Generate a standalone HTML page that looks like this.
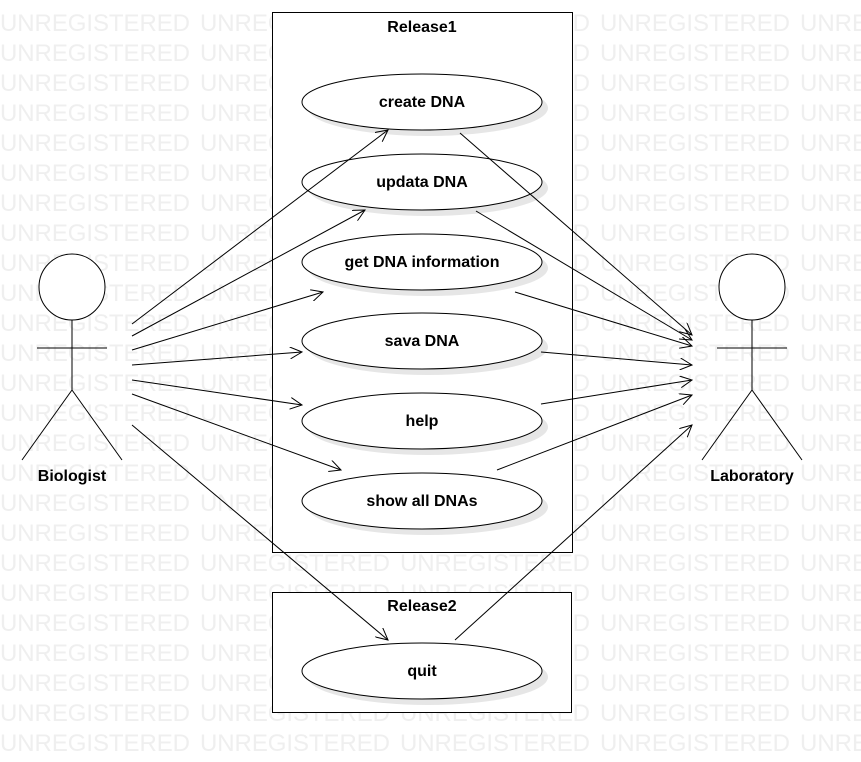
<!DOCTYPE html>
<html><head><meta charset="utf-8"><style>body{margin:0;background:#fff}svg{display:block}</style></head>
<body>
<svg width="861" height="762" viewBox="0 0 861 762" xmlns="http://www.w3.org/2000/svg" font-family="Liberation Sans, sans-serif">
<defs>
<marker id="a" markerWidth="14" markerHeight="12" refX="12" refY="6" orient="auto" markerUnits="userSpaceOnUse">
<path d="M0,0 L12,6 L0,12" fill="none" stroke="#000" stroke-width="1"/>
</marker>
</defs>
<g fill="#efefef" font-size="24">
<text x="0" y="31" textLength="190">UNREGISTERED</text><text x="200" y="31" textLength="190">UNREGISTERED</text><text x="400" y="31" textLength="190">UNREGISTERED</text><text x="600" y="31" textLength="190">UNREGISTERED</text><text x="800" y="31">UNRE</text>
<text x="0" y="61" textLength="190">UNREGISTERED</text><text x="200" y="61" textLength="190">UNREGISTERED</text><text x="400" y="61" textLength="190">UNREGISTERED</text><text x="600" y="61" textLength="190">UNREGISTERED</text><text x="800" y="61">UNRE</text>
<text x="0" y="91" textLength="190">UNREGISTERED</text><text x="200" y="91" textLength="190">UNREGISTERED</text><text x="400" y="91" textLength="190">UNREGISTERED</text><text x="600" y="91" textLength="190">UNREGISTERED</text><text x="800" y="91">UNRE</text>
<text x="0" y="121" textLength="190">UNREGISTERED</text><text x="200" y="121" textLength="190">UNREGISTERED</text><text x="400" y="121" textLength="190">UNREGISTERED</text><text x="600" y="121" textLength="190">UNREGISTERED</text><text x="800" y="121">UNRE</text>
<text x="0" y="151" textLength="190">UNREGISTERED</text><text x="200" y="151" textLength="190">UNREGISTERED</text><text x="400" y="151" textLength="190">UNREGISTERED</text><text x="600" y="151" textLength="190">UNREGISTERED</text><text x="800" y="151">UNRE</text>
<text x="0" y="181" textLength="190">UNREGISTERED</text><text x="200" y="181" textLength="190">UNREGISTERED</text><text x="400" y="181" textLength="190">UNREGISTERED</text><text x="600" y="181" textLength="190">UNREGISTERED</text><text x="800" y="181">UNRE</text>
<text x="0" y="211" textLength="190">UNREGISTERED</text><text x="200" y="211" textLength="190">UNREGISTERED</text><text x="400" y="211" textLength="190">UNREGISTERED</text><text x="600" y="211" textLength="190">UNREGISTERED</text><text x="800" y="211">UNRE</text>
<text x="0" y="241" textLength="190">UNREGISTERED</text><text x="200" y="241" textLength="190">UNREGISTERED</text><text x="400" y="241" textLength="190">UNREGISTERED</text><text x="600" y="241" textLength="190">UNREGISTERED</text><text x="800" y="241">UNRE</text>
<text x="0" y="271" textLength="190">UNREGISTERED</text><text x="200" y="271" textLength="190">UNREGISTERED</text><text x="400" y="271" textLength="190">UNREGISTERED</text><text x="600" y="271" textLength="190">UNREGISTERED</text><text x="800" y="271">UNRE</text>
<text x="0" y="301" textLength="190">UNREGISTERED</text><text x="200" y="301" textLength="190">UNREGISTERED</text><text x="400" y="301" textLength="190">UNREGISTERED</text><text x="600" y="301" textLength="190">UNREGISTERED</text><text x="800" y="301">UNRE</text>
<text x="0" y="331" textLength="190">UNREGISTERED</text><text x="200" y="331" textLength="190">UNREGISTERED</text><text x="400" y="331" textLength="190">UNREGISTERED</text><text x="600" y="331" textLength="190">UNREGISTERED</text><text x="800" y="331">UNRE</text>
<text x="0" y="361" textLength="190">UNREGISTERED</text><text x="200" y="361" textLength="190">UNREGISTERED</text><text x="400" y="361" textLength="190">UNREGISTERED</text><text x="600" y="361" textLength="190">UNREGISTERED</text><text x="800" y="361">UNRE</text>
<text x="0" y="391" textLength="190">UNREGISTERED</text><text x="200" y="391" textLength="190">UNREGISTERED</text><text x="400" y="391" textLength="190">UNREGISTERED</text><text x="600" y="391" textLength="190">UNREGISTERED</text><text x="800" y="391">UNRE</text>
<text x="0" y="421" textLength="190">UNREGISTERED</text><text x="200" y="421" textLength="190">UNREGISTERED</text><text x="400" y="421" textLength="190">UNREGISTERED</text><text x="600" y="421" textLength="190">UNREGISTERED</text><text x="800" y="421">UNRE</text>
<text x="0" y="451" textLength="190">UNREGISTERED</text><text x="200" y="451" textLength="190">UNREGISTERED</text><text x="400" y="451" textLength="190">UNREGISTERED</text><text x="600" y="451" textLength="190">UNREGISTERED</text><text x="800" y="451">UNRE</text>
<text x="0" y="481" textLength="190">UNREGISTERED</text><text x="200" y="481" textLength="190">UNREGISTERED</text><text x="400" y="481" textLength="190">UNREGISTERED</text><text x="600" y="481" textLength="190">UNREGISTERED</text><text x="800" y="481">UNRE</text>
<text x="0" y="511" textLength="190">UNREGISTERED</text><text x="200" y="511" textLength="190">UNREGISTERED</text><text x="400" y="511" textLength="190">UNREGISTERED</text><text x="600" y="511" textLength="190">UNREGISTERED</text><text x="800" y="511">UNRE</text>
<text x="0" y="541" textLength="190">UNREGISTERED</text><text x="200" y="541" textLength="190">UNREGISTERED</text><text x="400" y="541" textLength="190">UNREGISTERED</text><text x="600" y="541" textLength="190">UNREGISTERED</text><text x="800" y="541">UNRE</text>
<text x="0" y="571" textLength="190">UNREGISTERED</text><text x="200" y="571" textLength="190">UNREGISTERED</text><text x="400" y="571" textLength="190">UNREGISTERED</text><text x="600" y="571" textLength="190">UNREGISTERED</text><text x="800" y="571">UNRE</text>
<text x="0" y="601" textLength="190">UNREGISTERED</text><text x="200" y="601" textLength="190">UNREGISTERED</text><text x="400" y="601" textLength="190">UNREGISTERED</text><text x="600" y="601" textLength="190">UNREGISTERED</text><text x="800" y="601">UNRE</text>
<text x="0" y="631" textLength="190">UNREGISTERED</text><text x="200" y="631" textLength="190">UNREGISTERED</text><text x="400" y="631" textLength="190">UNREGISTERED</text><text x="600" y="631" textLength="190">UNREGISTERED</text><text x="800" y="631">UNRE</text>
<text x="0" y="661" textLength="190">UNREGISTERED</text><text x="200" y="661" textLength="190">UNREGISTERED</text><text x="400" y="661" textLength="190">UNREGISTERED</text><text x="600" y="661" textLength="190">UNREGISTERED</text><text x="800" y="661">UNRE</text>
<text x="0" y="691" textLength="190">UNREGISTERED</text><text x="200" y="691" textLength="190">UNREGISTERED</text><text x="400" y="691" textLength="190">UNREGISTERED</text><text x="600" y="691" textLength="190">UNREGISTERED</text><text x="800" y="691">UNRE</text>
<text x="0" y="721" textLength="190">UNREGISTERED</text><text x="200" y="721" textLength="190">UNREGISTERED</text><text x="400" y="721" textLength="190">UNREGISTERED</text><text x="600" y="721" textLength="190">UNREGISTERED</text><text x="800" y="721">UNRE</text>
<text x="0" y="751" textLength="190">UNREGISTERED</text><text x="200" y="751" textLength="190">UNREGISTERED</text><text x="400" y="751" textLength="190">UNREGISTERED</text><text x="600" y="751" textLength="190">UNREGISTERED</text><text x="800" y="751">UNRE</text>
</g>

<rect x="272.5" y="12.5" width="300" height="540" fill="#fff" stroke="#000"/>
<rect x="272.5" y="592.5" width="299" height="120" fill="#fff" stroke="#000"/>
<g font-size="16" font-weight="bold" text-anchor="middle">
<text x="422" y="32">Release1</text>
<text x="422" y="611">Release2</text>
</g>

<g fill="#e6e6e6">
<ellipse cx="428" cy="108" rx="120" ry="28"/>
<ellipse cx="428" cy="188" rx="120" ry="28"/>
<ellipse cx="428" cy="268" rx="120" ry="28"/>
<ellipse cx="428" cy="347" rx="120" ry="28"/>
<ellipse cx="428" cy="427" rx="120" ry="28"/>
<ellipse cx="428" cy="507" rx="120" ry="28"/>
<ellipse cx="428" cy="677" rx="120" ry="28"/>
</g>
<g fill="#fff" stroke="#000">
<ellipse cx="422" cy="102" rx="120" ry="28"/>
<ellipse cx="422" cy="182" rx="120" ry="28"/>
<ellipse cx="422" cy="262" rx="120" ry="28"/>
<ellipse cx="422" cy="341" rx="120" ry="28"/>
<ellipse cx="422" cy="421" rx="120" ry="28"/>
<ellipse cx="422" cy="501" rx="120" ry="28"/>
<ellipse cx="422" cy="671" rx="120" ry="28"/>
</g>
<g font-size="16" font-weight="bold" text-anchor="middle">
<text x="422" y="107">create DNA</text>
<text x="422" y="187">updata DNA</text>
<text x="422" y="267">get DNA information</text>
<text x="422" y="346">sava DNA</text>
<text x="422" y="426">help</text>
<text x="422" y="506">show all DNAs</text>
<text x="422" y="676">quit</text>
</g>

<g fill="none" stroke="#000">
<circle cx="72" cy="287" r="33" fill="#fff"/>
<line x1="72" y1="320" x2="72" y2="390"/>
<line x1="37" y1="348" x2="107" y2="348"/>
<line x1="72" y1="390" x2="22" y2="460"/>
<line x1="72" y1="390" x2="122" y2="460"/>
<circle cx="752" cy="287" r="33" fill="#fff"/>
<line x1="752" y1="320" x2="752" y2="390"/>
<line x1="717" y1="348" x2="787" y2="348"/>
<line x1="752" y1="390" x2="702" y2="460"/>
<line x1="752" y1="390" x2="802" y2="460"/>
</g>
<g font-size="16" font-weight="bold" text-anchor="middle">
<text x="72" y="481">Biologist</text>
<text x="752" y="481">Laboratory</text>
</g>

<g stroke="#000" fill="none" marker-end="url(#a)">
<line x1="132" y1="324" x2="388" y2="130"/>
<line x1="132" y1="336" x2="365" y2="210"/>
<line x1="132" y1="350" x2="323" y2="292"/>
<line x1="132" y1="365" x2="302" y2="352"/>
<line x1="132" y1="380" x2="302" y2="405"/>
<line x1="132" y1="394" x2="341" y2="470"/>
<line x1="132" y1="425" x2="388" y2="640"/>
<line x1="460" y1="133" x2="692" y2="335"/>
<line x1="476" y1="211" x2="692" y2="340"/>
<line x1="515" y1="292" x2="692" y2="346"/>
<line x1="541" y1="352" x2="692" y2="365"/>
<line x1="541" y1="404" x2="692" y2="380"/>
<line x1="497" y1="470" x2="692" y2="395"/>
<line x1="455" y1="640" x2="692" y2="425"/>
</g>
</svg>
</body></html>
